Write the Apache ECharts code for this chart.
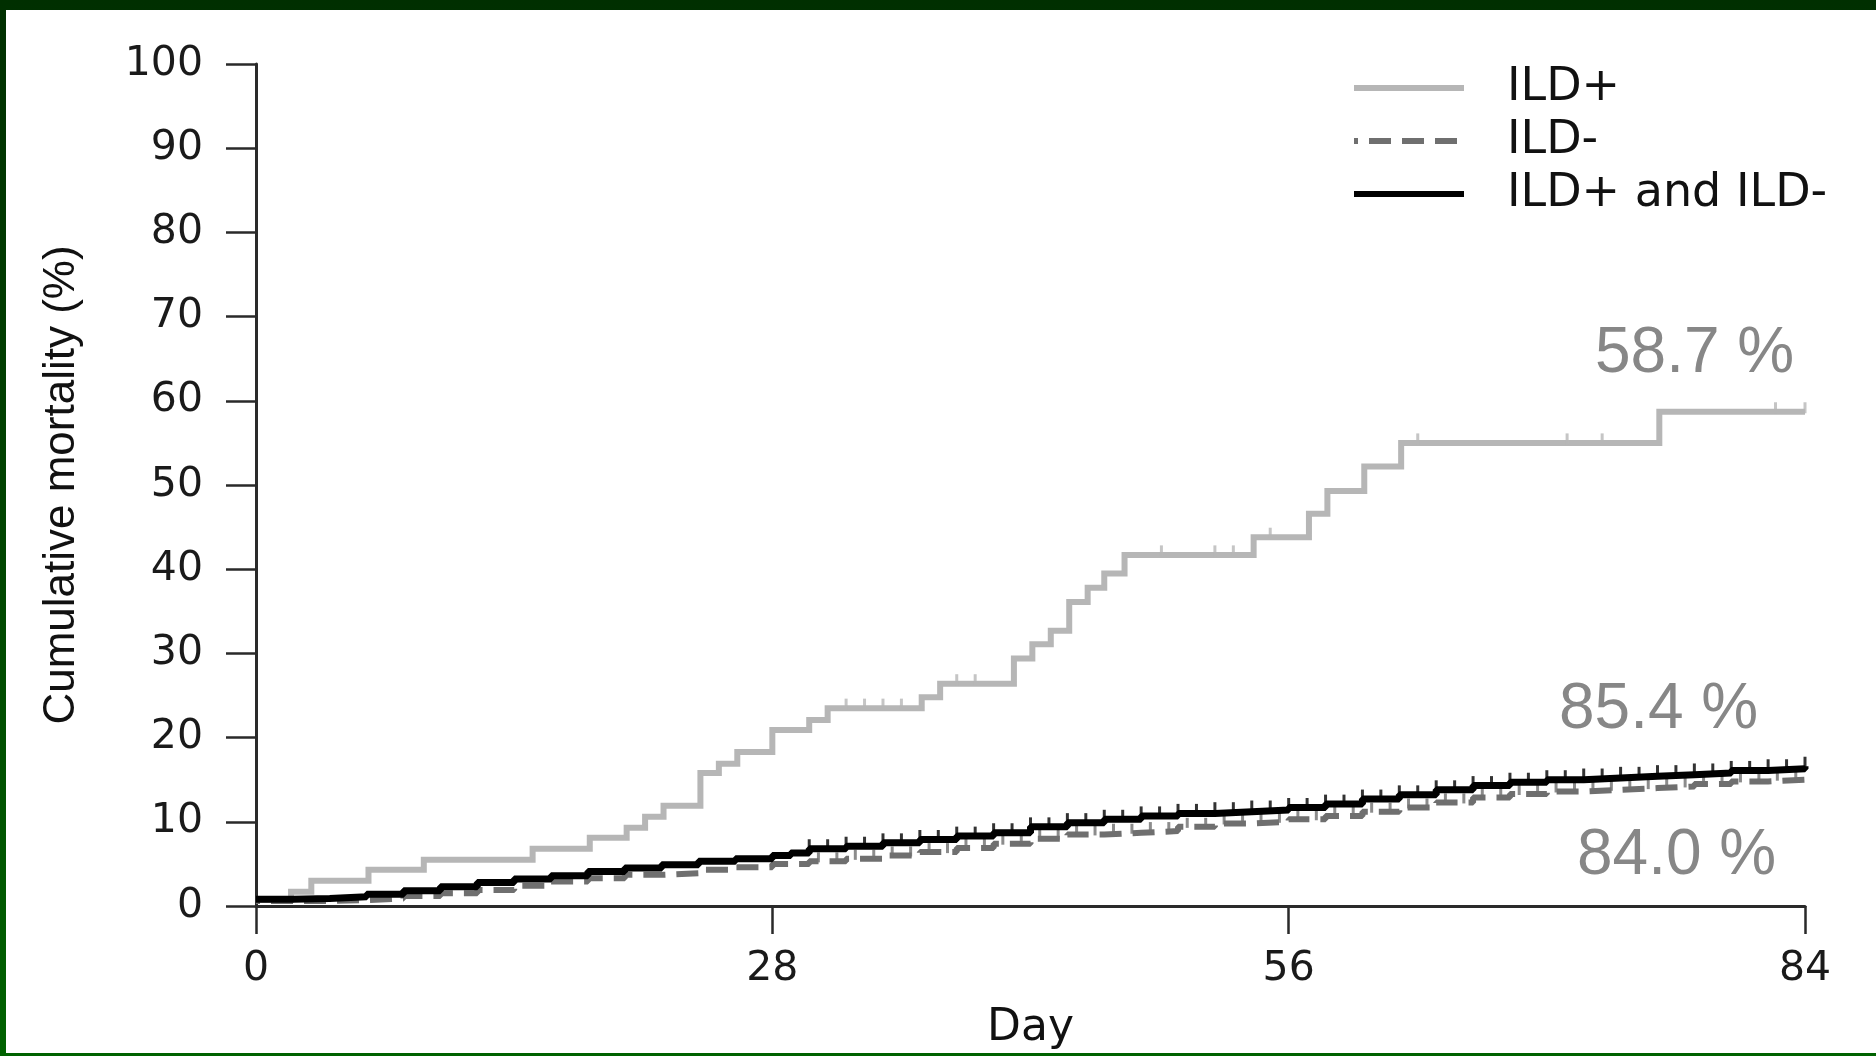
<!DOCTYPE html>
<html><head><meta charset="utf-8">
<script src="https://cdn.jsdelivr.net/npm/echarts@6/dist/echarts.min.js"></script>
<style>
html,body{margin:0;padding:0;width:1876px;height:1056px;overflow:hidden;background:#fff;}
#frame{position:absolute;left:0;top:0;width:1876px;height:1056px;background:linear-gradient(to bottom,#002f00 0%,#004400 50%,#006200 100%);}
#paper{position:absolute;left:6px;top:10px;right:0;bottom:3px;background:#fff;}
#chart{position:absolute;left:0;top:0;width:1876px;height:1056px;}
</style></head>
<body><div id="frame"><div id="paper"></div></div><div id="chart"></div>
<script>
// ---- data ----
const xTicks = [0, 28, 56, 84];
const yTicks = [0, 10, 20, 30, 40, 50, 60, 70, 80, 90, 100];
const seriesNames = ['ILD+', 'ILD-', 'ILD+ and ILD-'];

// ILD+ (grey step curve): event days and cumulative mortality (%)
const ildPlusDays = [0, 1.9, 3.0, 6.1, 9.1, 15.0, 18.1, 20.1, 21.1, 22.1, 24.1, 25.1, 26.1, 28.0, 30.0, 31.0, 36.1, 37.1, 41.1, 42.1, 43.1, 44.1, 45.1, 46.0, 47.1, 54.1, 57.1, 58.1, 60.1, 62.1, 76.1, 84];
const ildPlusMort = [0.7, 1.7, 3.0, 4.3, 5.5, 6.8, 8.1, 9.3, 10.6, 11.9, 15.8, 16.9, 18.3, 20.9, 22.1, 23.5, 24.8, 26.4, 29.4, 31.1, 32.7, 36.1, 37.8, 39.5, 41.7, 43.8, 46.6, 49.3, 52.2, 55.0, 58.7, 58.7];
const ildPlusCensor = [32.0, 33.0, 34.0, 35.0, 38.0, 39.0, 49.1, 52.0, 53.0, 55.0, 63.0, 71.1, 73.0, 82.4, 84];

// ILD- (dashed curve)
const ildMinusDays = [0, 2, 4, 6, 8, 10, 12, 14, 16, 18, 20, 22, 24, 26, 28, 30, 32, 34, 36, 38, 40, 42, 44, 46, 48, 50, 52, 54, 56, 58, 60, 62, 64, 66, 68, 70, 72, 74, 76, 78, 80, 82, 84];
const ildMinusMort = [0.6, 0.6, 0.7, 0.9, 1.2, 1.5, 1.9, 2.4, 2.9, 3.3, 3.7, 3.9, 4.3, 4.6, 5.0, 5.3, 5.6, 6.0, 6.4, 6.9, 7.4, 8.0, 8.5, 8.7, 8.9, 9.4, 9.8, 10.0, 10.3, 10.7, 11.2, 11.7, 12.3, 12.9, 13.3, 13.6, 13.8, 14.0, 14.2, 14.5, 14.8, 15.0, 15.2];
const ildMinusCensor = [30.5, 31.5, 32.5, 33.5, 34.5, 35.5, 36.5, 37.5, 38.5, 39.5, 40.5, 41.5, 42.5, 43.5, 44.5, 45.5, 46.5, 47.5, 48.5, 49.5, 50.5, 51.5, 52.5, 53.5, 54.5, 55.5, 56.5, 57.5, 58.5, 59.5, 60.5, 61.5, 62.5, 63.5, 64.5, 65.5, 66.5, 67.5, 68.5, 69.5, 70.5, 71.5, 72.5, 73.5, 74.5, 75.5, 76.5, 77.5, 78.5, 79.5, 80.5, 81.5, 82.5, 83.5];

// ILD+ and ILD- (black curve)
const allDays = [0, 2, 4, 6, 8, 10, 12, 14, 16, 18, 20, 22, 24, 26, 28, 29, 30, 32, 34, 36, 38, 40, 42, 44, 46, 48, 50, 52, 54, 56, 58, 60, 62, 64, 66, 68, 70, 72, 74, 76, 78, 80, 82, 84];
const allMort = [0.8, 0.9, 1.1, 1.4, 1.8, 2.3, 2.8, 3.2, 3.6, 4.1, 4.5, 4.9, 5.3, 5.6, 6.0, 6.3, 6.8, 7.1, 7.5, 7.9, 8.3, 8.7, 9.4, 9.9, 10.3, 10.7, 11.0, 11.2, 11.4, 11.7, 12.1, 12.7, 13.2, 13.8, 14.3, 14.7, 15.0, 15.2, 15.4, 15.6, 15.8, 16.1, 16.3, 16.6];
const allCensor = [30, 31, 32, 33, 34, 35, 36, 37, 38, 39, 40, 41, 42, 43, 44, 45, 46, 47, 48, 49, 50, 51, 52, 53, 54, 55, 56, 57, 58, 59, 60, 61, 62, 63, 64, 65, 66, 67, 68, 69, 70, 71, 72, 73, 74, 75, 76, 77, 78, 79, 80, 81, 82, 83, 84];

const annotations = ['58.7 %', '85.4 %', '84.0 %'];

// ---- helpers ----
function pairs(xs, ys) { return xs.map((x, i) => [x, ys[i]]); }
function valueAt(xs, ys, d) {
  let v = ys[0];
  for (let i = 0; i < xs.length; i++) { if (xs[i] <= d) v = ys[i]; }
  return v;
}
function censorPoints(cs, xs, ys) { return cs.map(d => [d, valueAt(xs, ys, d)]); }

const GREY = '#b6b6b6', DGREY = '#6f6f6f', BLACK = '#000000';
const AXIS = '#2a2a2a';
const tickFont = 'DejaVu Sans';

const chart = echarts.init(document.getElementById('chart'), null, {renderer: 'canvas'});
chart.setOption({
  animation: false,
  backgroundColor: 'transparent',
  grid: {left: 256, right: 71, top: 64, bottom: 148, containLabel: false},
  legend: {
    data: seriesNames,
    orient: 'vertical',
    left: 1346, top: 58,
    itemWidth: 110, itemHeight: 20, itemGap: 3,
    itemStyle: {opacity: 0},
    lineStyle: {width: 6},
    textStyle: {fontFamily: tickFont, fontSize: 46, color: '#111', lineHeight: 50, padding: [0, 0, 0, 38]},
    selectedMode: false
  },
  xAxis: {
    type: 'value', min: 0, max: 84, interval: 28,
    name: 'Day', nameLocation: 'middle', nameGap: 101,
    nameTextStyle: {fontFamily: tickFont, fontSize: 44, color: '#111'},
    axisLine: {lineStyle: {color: AXIS, width: 3}},
    axisTick: {length: 28, lineStyle: {color: AXIS, width: 2.5}},
    axisLabel: {fontFamily: tickFont, fontSize: 41, color: '#1a1a1a', margin: 43,
      formatter: v => xTicks.indexOf(v) >= 0 ? String(v) : ''},
    splitLine: {show: false}
  },
  yAxis: {
    type: 'value', min: 0, max: 100, interval: 10,
    name: 'Cumulative mortality (%)', nameLocation: 'middle', nameGap: 172, nameRotate: 90,
    nameTextStyle: {fontFamily: 'Liberation Sans', fontSize: 44, color: '#111'},
    axisLine: {lineStyle: {color: AXIS, width: 3}},
    axisTick: {length: 30, lineStyle: {color: AXIS, width: 2.5}},
    axisLabel: {fontFamily: tickFont, fontSize: 41, color: '#1a1a1a', margin: 53,
      formatter: v => yTicks.indexOf(v) >= 0 ? String(v) : ''},
    splitLine: {show: false}
  },
  series: [
    {name: seriesNames[0], type: 'line', step: 'end', symbol: 'none', z: 2,
     data: pairs(ildPlusDays, ildPlusMort),
     lineStyle: {color: GREY, width: 6, cap: 'butt', join: 'miter'}, itemStyle: {color: GREY}},
    {name: seriesNames[1], type: 'line', step: 'end', symbol: 'none', z: 3,
     data: pairs(ildMinusDays, ildMinusMort),
     lineStyle: {color: DGREY, width: 6, type: [22, 11], dashOffset: 18, cap: 'butt'}, itemStyle: {color: DGREY}},
    {name: seriesNames[2], type: 'line', step: 'end', symbol: 'none', z: 4,
     data: pairs(allDays, allMort),
     lineStyle: {color: BLACK, width: 7, cap: 'butt'}, itemStyle: {color: BLACK}},
    {name: 'ILD+ censored', type: 'scatter', z: 2, symbol: 'rect', symbolSize: [3, 11], symbolOffset: [0, -4],
     data: censorPoints(ildPlusCensor, ildPlusDays, ildPlusMort), itemStyle: {color: GREY}, silent: true},
    {name: 'ILD- censored', type: 'scatter', z: 3, symbol: 'rect', symbolSize: [3, 10], symbolOffset: [0, -4],
     data: censorPoints(ildMinusCensor, ildMinusDays, ildMinusMort), itemStyle: {color: DGREY}, silent: true},
    {name: 'ILD+ and ILD- censored', type: 'scatter', z: 4, symbol: 'rect', symbolSize: [3, 11], symbolOffset: [0, -4],
     data: censorPoints(allCensor, allDays, allMort), itemStyle: {color: BLACK}, silent: true}
  ],
  graphic: [
    {type: 'text', left: 1595, top: 322, style: {text: annotations[0], fontFamily: 'Liberation Sans', fontSize: 64, fill: '#878787'}},
    {type: 'text', left: 1559, top: 678, style: {text: annotations[1], fontFamily: 'Liberation Sans', fontSize: 64, fill: '#878787'}},
    {type: 'text', left: 1577, top: 824, style: {text: annotations[2], fontFamily: 'Liberation Sans', fontSize: 64, fill: '#878787'}}
  ]
});
</script></body></html>
